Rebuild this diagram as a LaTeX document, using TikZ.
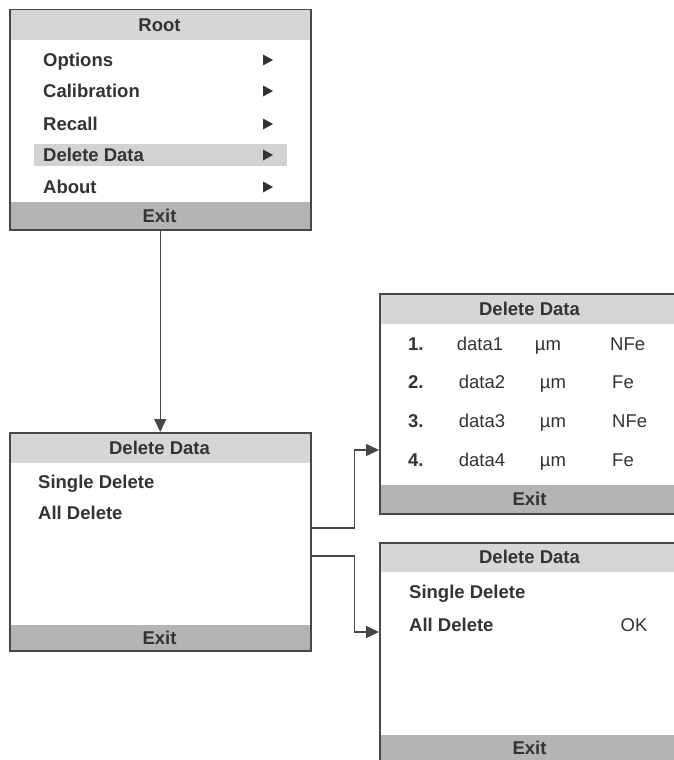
\documentclass[tikz,border=0pt]{standalone}
\usepackage{fontspec}
\setmainfont{Liberation Sans}
\usetikzlibrary{arrows.meta}
\definecolor{txt}{HTML}{333333}
\definecolor{edge}{HTML}{474747}
\definecolor{hdr}{HTML}{D6D6D6}
\definecolor{exitc}{HTML}{B4B4B4}
\definecolor{hil}{HTML}{D2D2D2}
\tikzset{
  screen/.style={draw=edge, line width=1.5pt, minimum width=301pt, minimum height=220pt, anchor=north west, inner sep=0pt},
  lbl/.style={text=txt, font=\fontsize{18.5}{20}\selectfont\bfseries, text height=13pt, text depth=0pt, inner sep=0pt},
  plain/.style={lbl, font=\fontsize{18.5}{20}\selectfont},
  conn/.style={draw=edge, line width=1.5pt, -{Triangle[length=13pt,width=12pt]}},
  tri/.style={fill=txt}
}
\begin{document}
\begin{tikzpicture}[x=1pt,y=-1pt]
\clip (0,0) rectangle (674,760);
\fill[white] (0,0) rectangle (674,760);
% ---------- Root ----------
\fill[hdr] (9,9) rectangle (310,40);
\fill[exitc] (9,202) rectangle (310,229);
\fill[hil] (34,144) rectangle (287,166);
\node[screen] (root) at (9,9) {};
\node[lbl] (roott) at (159.5,25) {Root};
\node[lbl, anchor=west] (r1) at (43,60) {Options};
\node[lbl, anchor=west] (r2) at (43,91) {Calibration};
\node[lbl, anchor=west] (r3) at (43,124) {Recall};
\node[lbl, anchor=west] (r4) at (43,155) {Delete Data};
\node[lbl, anchor=west] (r5) at (43,187) {About};
\node[lbl] (rexit) at (159.5,216) {Exit};
\foreach \yy in {60,91,124,155,187}{
  \fill[tri] (263,\yy-5.5) -- (273,\yy) -- (263,\yy+5.5) -- cycle;
}
% ---------- Delete Data (menu) ----------
\fill[hdr] (9,432) rectangle (310,463);
\fill[exitc] (9,625) rectangle (310,650);
\node[screen, minimum height=218pt] (dd) at (9,432) {};
\node[lbl] (ddt) at (159.5,448) {Delete Data};
\node[lbl, anchor=west] (dd1) at (38,482) {Single Delete};
\node[lbl, anchor=west] (dd2) at (38,513) {All Delete};
\node[lbl] (ddexit) at (159.5,638) {Exit};
% ---------- Delete Data (list) ----------
\fill[hdr] (379,293) rectangle (680,324);
\fill[exitc] (379,485) rectangle (680,513);
\node[screen] (list) at (379,293) {};
\node[lbl] (listt) at (529.5,309) {Delete Data};
\node[lbl, anchor=west] (n1) at (408,344) {1.};
\node[lbl, anchor=west] (n2) at (408,382) {2.};
\node[lbl, anchor=west] (n3) at (408,421) {3.};
\node[lbl, anchor=west] (n4) at (408,460) {4.};
\node[plain] (d1) at (480,344) {data1};
\node[plain] (d2) at (482,382) {data2};
\node[plain] (d3) at (482,421) {data3};
\node[plain] (d4) at (482,460) {data4};
\node[plain] (u1) at (548,344) {µm};
\node[plain] (u2) at (553,382) {µm};
\node[plain] (u3) at (553,421) {µm};
\node[plain] (u4) at (553,460) {µm};
\node[plain, anchor=west] (m1) at (610,344) {NFe};
\node[plain, anchor=west] (m2) at (612,382) {Fe};
\node[plain, anchor=west] (m3) at (612,421) {NFe};
\node[plain, anchor=west] (m4) at (612,460) {Fe};
\node[lbl] (listexit) at (529.5,499) {Exit};
% ---------- Delete Data (confirm) ----------
\fill[hdr] (379,542) rectangle (680,572);
\fill[exitc] (379,735) rectangle (680,762);
\node[screen] (conf) at (379,542) {};
\node[lbl] (conft) at (529.5,557) {Delete Data};
\node[lbl, anchor=west] (c1) at (409,592) {Single Delete};
\node[lbl, anchor=west] (c2) at (409,625) {All Delete};
\node[plain] (ok) at (634,625) {OK};
\node[lbl] (confexit) at (529.5,748) {Exit};
% ---------- connectors ----------
\draw[conn] (root.south) -- (dd.north);
\draw[conn] ([yshift=14pt]dd.east) -- ++(43,0) |- (list.west |- 0,450);
\draw[conn] ([yshift=-14pt]dd.east) -- ++(43,0) |- (conf.west |- 0,632);
\end{tikzpicture}
\end{document}
